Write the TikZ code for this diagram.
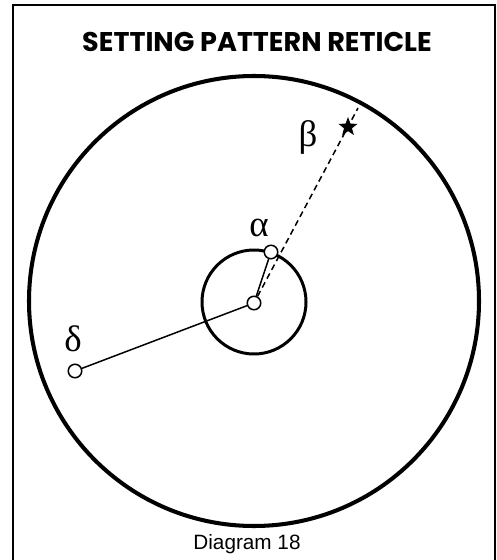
\documentclass[tikz,border=0pt]{standalone}
\usepackage{fontspec}
\usetikzlibrary{shapes.geometric}
\newfontfamily\titlefont{Poppins}
\newfontfamily\capfont{Liberation Sans}
\newfontfamily\greekfont{Liberation Serif}
\begin{document}
\begin{tikzpicture}[x=0.02cm,y=-0.02cm,
  pt/.style={circle,draw,fill=white,line width=0.85pt,inner sep=0pt,minimum size=0.27cm},
  lbl/.style={font=\greekfont\fontsize{21}{21}\selectfont,inner sep=0pt}]
\useasboundingbox (0,0) rectangle (496,560);
\draw[line width=1.1pt] (13,560) -- (13,5) -- (495,5) -- (495,560);
\node[font=\titlefont\bfseries\fontsize{15.4}{15.4}\selectfont] (title) at (257,42) {SETTING PATTERN RETICLE};
% reticle rings
\draw[line width=2.3pt] (254,301) circle (225);
\draw[line width=1.7pt] (254,302) circle (52);
% points
\node[pt] (ctr) at (254,303) {};
\node[pt] (alf) at (271,252) {};
\node[pt] (del) at (75,371) {};
\coordinate (tip) at (358,108);
\draw[line width=0.85pt] (ctr) -- (alf);
\draw[line width=0.85pt] (ctr) -- (del);
\draw[line width=0.85pt,dash pattern=on 3.4pt off 2.3pt] (ctr) -- (tip);
\node[star,star points=5,star point ratio=2.4,fill=black,inner sep=0pt,minimum size=0.4cm] (str) at (348,127) {};
% labels
\node[lbl] (la) at (259,228) {α};
\node[lbl] (lb) at (308,137) {β};
\node[lbl] (ld) at (73,339) {δ};
\node[font=\capfont\fontsize{11.8}{11.8}\selectfont] (cap) at (247,544) {Diagram 18};
\end{tikzpicture}
\end{document}
